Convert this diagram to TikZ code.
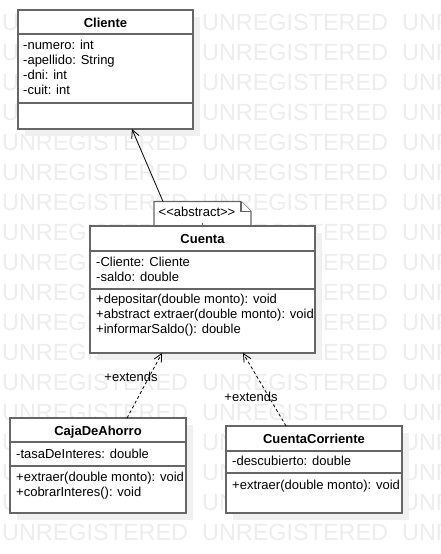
\documentclass[tikz,border=0pt]{standalone}
\usepackage{fontspec}
\setmainfont{Liberation Sans}
\usetikzlibrary{arrows.meta,calc,shadows}
\definecolor{boxcol}{HTML}{666666}
\definecolor{shadcol}{HTML}{F0F0F0}
\definecolor{wmcol}{HTML}{EDEDED}
\begin{document}
\begin{tikzpicture}[x=1pt,y=-1pt,
  box/.style={draw=boxcol, line width=1.6pt, fill=white, inner sep=0pt, outer sep=0pt, rectangle,
    drop shadow={shadow xshift=7pt, shadow yshift=-7pt, fill=shadcol, opacity=1}},
  sepline/.style={draw=boxcol, line width=1.6pt},
  ttl/.style={font=\fontsize{13}{15}\selectfont\bfseries, inner sep=0pt, anchor=base},
  txt/.style={font=\fontsize{13}{15}\selectfont, inner sep=0pt, anchor=base west},
  lbl/.style={font=\fontsize{13}{15}\selectfont, inner sep=0pt, anchor=base},
  wm/.style={font=\fontsize{23.4}{28}\selectfont, text=wmcol, inner sep=0pt, anchor=base west},
  notebox/.style={draw=boxcol, line width=1.2pt, fill=white},
  assoc/.style={draw=black, line width=0.8pt, -{Straight Barb[length=8pt,width=8pt]}},
  realize/.style={draw=black, line width=0.8pt, dash pattern=on 3pt off 2.5pt, -{Straight Barb[length=8pt,width=8pt]}}]
\useasboundingbox (0,0) rectangle (441,554);
\fill[white] (0,0) rectangle (441,554);
% watermark
\foreach \k in {0,...,17}{
  \foreach \j in {0,1,2}{
    \node[wm] (wm-\j-\k) at (2+200*\j, 30+30*\k) {UNREGISTERED};
  }
}
% Cliente
\node[box, minimum width=175pt, minimum height=119pt] (cliente) at (105.5,69.5) {};
\draw[sepline] (cliente.west |- 0,34) -- (cliente.east |- 0,34);
\draw[sepline] (cliente.west |- 0,103) -- (cliente.east |- 0,103);
\node[ttl] (clienteT) at (105.5,27.5) {Cliente};
\node[txt] (cl1) at (23,49.5) {-numero: int};
\node[txt] (cl2) at (23,64.5) {-apellido: String};
\node[txt] (cl3) at (23,79.5) {-dni: int};
\node[txt] (cl4) at (23,94.5) {-cuit: int};
% note
\node[inner sep=0pt, outer sep=0pt, minimum width=97pt, minimum height=25pt] (note) at (202.5,214) {};
\draw[notebox] (note.south west) -- (note.north west) -- ($(note.north east)+(-10pt,0pt)$) -- ($(note.north east)+(0pt,-10pt)$) -- (note.south east) -- cycle;
\draw[notebox] ($(note.north east)+(-10pt,0pt)$) -- ($(note.north east)+(-10pt,-10pt)$) -- ($(note.north east)+(0pt,-10pt)$);
\node[lbl] (noteT) at (197,216.5) {\textless\kern0pt\textless\kern0pt abstract\kern0pt\textgreater\kern0pt\textgreater};
\draw[draw=boxcol, line width=1pt] ($(note.south)+(0pt,4pt)$) -- (note.south);
% Cuenta
\node[box, minimum width=225pt, minimum height=127pt] (cuenta) at (202.5,289.5) {};
\draw[sepline] (cuenta.west |- 0,251) -- (cuenta.east |- 0,251);
\draw[sepline] (cuenta.west |- 0,289) -- (cuenta.east |- 0,289);
\node[ttl] (cuentaT) at (202.5,243.5) {Cuenta};
\node[txt] (cu1) at (96,266.5) {-Cliente: Cliente};
\node[txt] (cu2) at (96,281.5) {-saldo: double};
\node[txt] (cu3) at (96,303.5) {+depositar(double monto): void};
\node[txt] (cu4) at (96,318.5) {+abstract extraer(double monto): void};
\node[txt] (cu5) at (96,333.5) {+informarSaldo(): double};
% CajaDeAhorro
\node[box, minimum width=176pt, minimum height=95pt] (caja) at (98,465.5) {};
\draw[sepline] (caja.west |- 0,442) -- (caja.east |- 0,442);
\draw[sepline] (caja.west |- 0,466) -- (caja.east |- 0,466);
\node[ttl] (cajaT) at (98,435.5) {CajaDeAhorro};
\node[txt] (ca1) at (16,458.5) {-tasaDeInteres: double};
\node[txt] (ca2) at (16,481.5) {+extraer(double monto): void};
\node[txt] (ca3) at (16,496.5) {+cobrarInteres(): void};
% CuentaCorriente
\node[box, minimum width=176pt, minimum height=87pt] (cc) at (314,469.5) {};
\draw[sepline] (cc.west |- 0,451) -- (cc.east |- 0,451);
\draw[sepline] (cc.west |- 0,473) -- (cc.east |- 0,473);
\node[ttl] (ccT) at (314,443.5) {CuentaCorriente};
\node[txt] (cc1) at (232,465.5) {-descubierto: double};
\node[txt] (cc2) at (232,489.5) {+extraer(double monto): void};
% connectors
\draw[assoc] ($(note.north west)!0.093!(note.north east)$) -- ($(cliente.south west)!0.651!(cliente.south east)$);
\draw[realize] ($(caja.north west)!0.665!(caja.north east)$) -- ($(cuenta.south west)!0.32!(cuenta.south east)$);
\draw[realize] ($(cc.north west)!0.341!(cc.north east)$) -- ($(cuenta.south west)!0.68!(cuenta.south east)$);
\node[lbl] (ext1) at (131,381.5) {+extends};
\node[lbl] (ext2) at (251,401.5) {+extends};
\end{tikzpicture}
\end{document}
